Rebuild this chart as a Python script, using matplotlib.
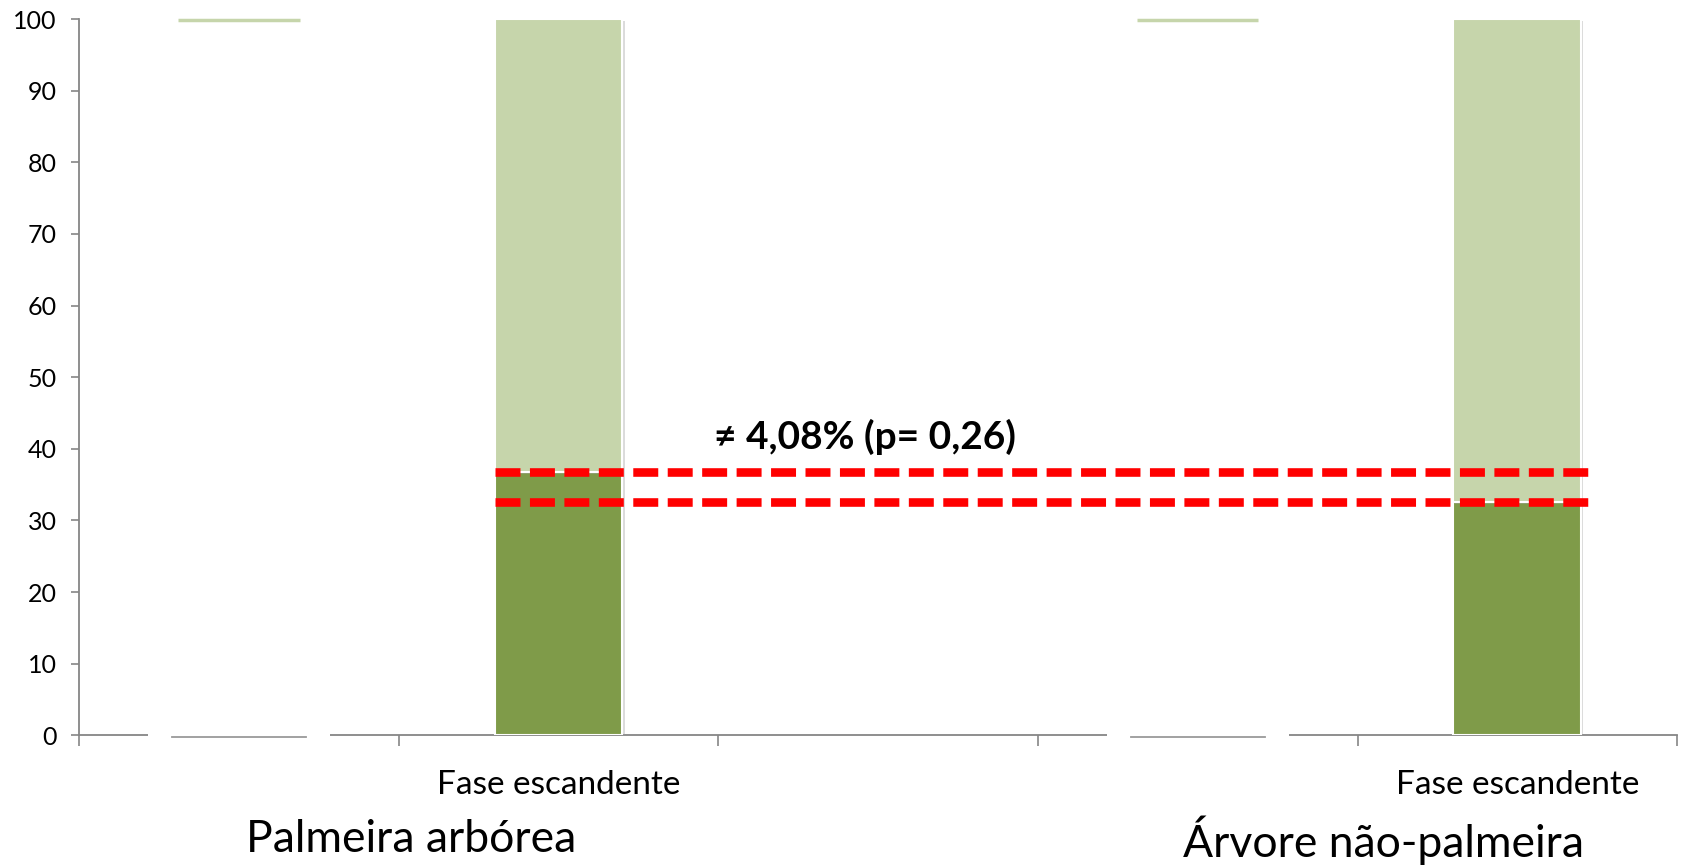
import matplotlib
matplotlib.use("Agg")
import matplotlib.pyplot as plt
import matplotlib.patheffects as pe
import numpy as np

# slots along the x axis (two groups with an empty slot between)
slot_labels = ["", "Fase escandente", "", "", "Fase escandente"]
group_labels = ["Palmeira arbórea", "Árvore não-palmeira"]
group_pos = [0.54, 3.58]

# stacked percentages for the two visible bars
bar_slots = [1, 4]
dark_vals = [36.70, 32.62]
light_vals = [100 - v for v in dark_vals]
# blank (white) bars
blank_slots = [0, 3]
blank_vals = [100, 100]

note_text = "≠ 4,08% (p= 0,26)"

dark_green = "#7F9B49"
light_green = "#C6D5AB"
axis_grey = "#868686"

plt.rcParams['font.family'] = ['Lato', 'DejaVu Sans']

fig = plt.figure(figsize=(16.83, 8.65), dpi=100)
ax = fig.add_axes([0.047, 0.150, 0.9495, 0.828])

w = 0.40
shadow = [pe.withSimplePatchShadow(offset=(1.5, -1.5), shadow_rgbFace="#999999", alpha=0.35)]

ax.bar(bar_slots, dark_vals, width=w, color=dark_green, edgecolor="white", linewidth=1.5,
       zorder=3, path_effects=shadow)
ax.bar(bar_slots, light_vals, bottom=dark_vals, width=w, color=light_green, edgecolor="white",
       linewidth=1.5, zorder=3, path_effects=shadow)

# white bars: cover the axis line, thin green top, grey shadow at bottom
for s, v in zip(blank_slots, blank_vals):
    ax.bar(s, 1.2, bottom=-0.6, width=0.57, color="white", linewidth=0, zorder=4, clip_on=False)
    ax.plot([s - 0.21, s + 0.21], [-0.25, -0.25], color="#9a9a9a", lw=1.3, zorder=5, clip_on=False)
    ax.plot([s - 0.19, s + 0.19], [v - 0.1, v - 0.1], color=light_green, lw=2.5, zorder=5,
            clip_on=False, solid_capstyle="butt")

# dashed reference lines between the two bars
x0 = bar_slots[0] - w / 2
x1 = bar_slots[1] + w / 2 + 0.02
for v in dark_vals:
    ax.plot([x0, x1], [v, v], color="red", lw=6.2, dashes=(2.9, 1.1), zorder=6,
            solid_capstyle="butt", dash_capstyle="butt")

ax.text(1.96, 41.7, note_text, ha="center", va="center", fontsize=28, fontweight="bold", zorder=7)

ax.set_xlim(-0.5, 4.5)
ax.set_ylim(0, 100)
ax.set_yticks(np.arange(0, 101, 10))
ax.set_xticks(range(len(slot_labels)))
ax.set_xticklabels(slot_labels, fontsize=24)
ax.set_xticks(np.arange(-0.5, 4.6, 1), minor=True)
ax.tick_params(axis="x", which="major", length=0, pad=25)
ax.tick_params(axis="x", which="minor", length=8, width=1.2, color=axis_grey)
ax.tick_params(axis="y", length=6, width=1.2, color=axis_grey, labelsize=18, pad=10)

for sp in ["top", "right"]:
    ax.spines[sp].set_visible(False)
for sp in ["left", "bottom"]:
    ax.spines[sp].set_color(axis_grey)
    ax.spines[sp].set_linewidth(1.3)

for x, lab in zip(group_pos, group_labels):
    ax.text(x, -14.6, lab, ha="center", va="center", fontsize=32, clip_on=False)

fig.savefig("out.png", dpi=100, facecolor="white")
